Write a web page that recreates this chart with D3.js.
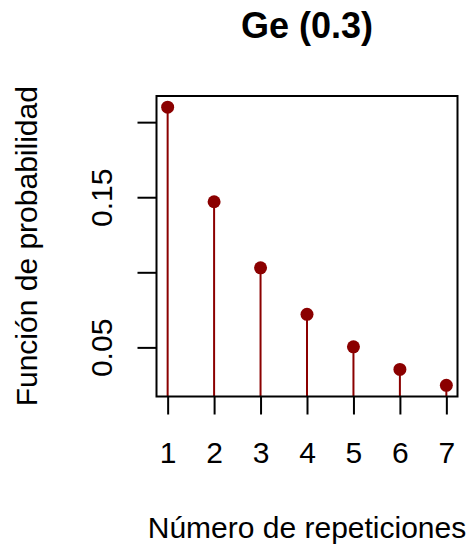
<!DOCTYPE html>
<html>
<head>
<meta charset="utf-8">
<script src="https://cdn.jsdelivr.net/npm/d3@7"></script>
<style>
body { margin: 0; background: #fff; }
text { font-family: "Liberation Sans", Arial, sans-serif; fill: #000; }
</style>
</head>
<body>
<script>
// Data
const repeticiones = [1, 2, 3, 4, 5, 6, 7];
const probabilidad = [0.21, 0.147, 0.103, 0.072, 0.0504, 0.0353, 0.0247];
const xTicks = [1, 2, 3, 4, 5, 6, 7];
const yTicks = [0.05, 0.10, 0.15, 0.20];
const yLabeled = [0.05, 0.15];

const width = 474, height = 548;
const pLeft = 156.5, pRight = 457.5, pTop = 96, pBottom = 396.5;

const svg = d3.select("body").append("svg")
  .attr("width", width).attr("height", height);

// R style 4% axis extension
function rExtend(ext) {
  const d = (ext[1] - ext[0]) * 0.04;
  return [ext[0] - d, ext[1] + d];
}

const x = d3.scaleLinear()
  .domain(rExtend(d3.extent(repeticiones)))
  .range([pLeft, pRight]);

const y = d3.scaleLinear()
  .domain(rExtend(d3.extent(probabilidad)))
  .range([pBottom, pTop]);

const data = repeticiones.map((r, i) => ({ x: r, y: probabilidad[i] }));

// vertical lines (type "h")
svg.append("clipPath").attr("id", "clip")
  .append("rect").attr("x", pLeft).attr("y", pTop)
  .attr("width", pRight - pLeft).attr("height", pBottom - pTop);

svg.append("g").attr("clip-path", "url(#clip)")
  .selectAll("line").data(data).join("line")
  .attr("x1", d => x(d.x)).attr("x2", d => x(d.x))
  .attr("y1", y(0)).attr("y2", d => y(d.y))
  .attr("stroke", "#8B0000").attr("stroke-width", 2);

svg.append("g").selectAll("circle").data(data).join("circle")
  .attr("cx", d => x(d.x)).attr("cy", d => y(d.y))
  .attr("r", 6.5).attr("fill", "#8B0000");

// box
svg.append("rect")
  .attr("x", pLeft).attr("y", pTop)
  .attr("width", pRight - pLeft).attr("height", pBottom - pTop)
  .attr("fill", "none").attr("stroke", "#000").attr("stroke-width", 2);

// x axis
const xAxis = svg.append("g")
  .attr("transform", `translate(0,${pBottom})`)
  .call(d3.axisBottom(x).tickValues(xTicks).tickSize(18).tickFormat(d3.format("d")));
xAxis.select(".domain").remove();
xAxis.selectAll("line").attr("stroke-width", 2);
xAxis.selectAll("text")
  .style("font-size", "30px").style("font-family", "Liberation Sans, Arial, sans-serif")
  .attr("dy", null).attr("y", 66);

// y axis
const yAxis = svg.append("g")
  .attr("transform", `translate(${pLeft},0)`)
  .call(d3.axisLeft(y).tickValues(yTicks).tickSize(19)
    .tickFormat(d => yLabeled.includes(d) ? d3.format(".2f")(d) : ""));
yAxis.select(".domain").remove();
yAxis.selectAll("line").attr("stroke-width", 2);
yAxis.selectAll("text")
  .style("font-size", "30px").style("font-family", "Liberation Sans, Arial, sans-serif")
  .attr("text-anchor", "middle").attr("dy", null).attr("x", null)
  .attr("transform", "translate(-45,0) rotate(-90)");

// titles
svg.append("text")
  .attr("x", (pLeft + pRight) / 2).attr("y", 38)
  .attr("text-anchor", "middle")
  .style("font-size", "36px").style("font-weight", "bold")
  .text("Ge (0.3)");

svg.append("text")
  .attr("x", (pLeft + pRight) / 2).attr("y", 538)
  .attr("text-anchor", "middle")
  .style("font-size", "30px")
  .text("Número de repeticiones");

svg.append("text")
  .attr("transform", `translate(37,${(pTop + pBottom) / 2}) rotate(-90)`)
  .attr("text-anchor", "middle")
  .style("font-size", "30px")
  .text("Función de probabilidad");
</script>
</body>
</html>
